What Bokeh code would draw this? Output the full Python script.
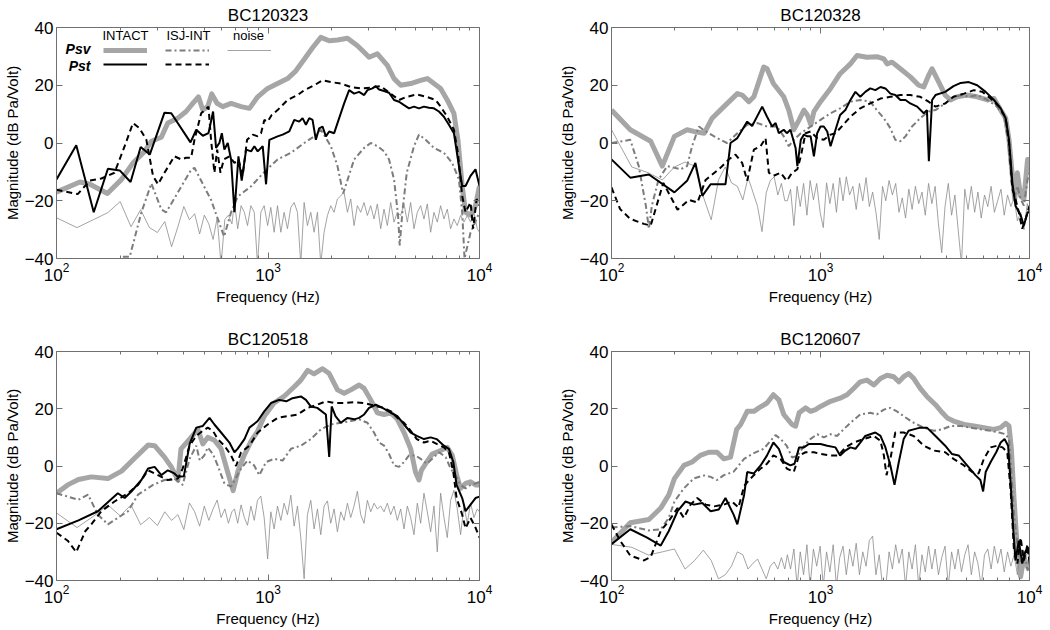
from bokeh.plotting import figure
from bokeh.models import (Range1d, FixedTicker, LinearAxis, LogAxis, Label,
                          Legend, LegendItem, CustomJSTickFormatter)
from bokeh.layouts import column, row
from bokeh.embed import file_html
from bokeh.resources import INLINE

FONT = "Liberation Sans"

titles = ["BC120323", "BC120328", "BC120518", "BC120607"]
x_ticks = [100, 1000, 10000]
x_minor = [200, 300, 400, 500, 600, 700, 800, 900,
           2000, 3000, 4000, 5000, 6000, 7000, 8000, 9000]
y_ticks = [-40, -20, 0, 20, 40]
x_label = "Frequency (Hz)"
y_label = "Magnitude (dB Pa/Volt)"
legend_cols = ["INTACT", "ISJ-INT", "noise"]
legend_rows = ["Psv", "Pst"]

# shared frequency points of the noise traces (Hz)
noise_f = [100, 125, 150, 175, 200, 225, 250, 275, 300, 325, 350, 375, 400, 425, 450, 475, 500, 525, 550, 575, 600, 625, 650, 675,
           694, 719, 746, 773, 800, 830, 861, 892, 925, 959,
           996, 1031, 1069, 1109, 1150, 1192, 1236, 1282, 1329, 1378,
           1429, 1482, 1536, 1593, 1652, 1713, 1776, 1842, 1910, 1980,
           2053, 2129, 2208, 2289, 2374, 2461, 2552, 2646, 2744, 2845,
           2950, 3059, 3172, 3289, 3411, 3536, 3667, 3802, 3943, 4088,
           4239, 4396, 4558, 4726, 4901, 5082, 5269, 5464, 5665, 5875,
           6092, 6316, 6550, 6791, 7042, 7302, 7572, 7851, 8141, 8442,
           8753, 9077, 9412, 9759, 10000]

# ---------------- BC120323 ----------------
p1_intact_psv_f = [100, 129, 144, 174, 203, 230, 261, 281, 313, 336, 375, 410, 441, 469, 492, 519, 542, 575, 611, 669, 746, 817, 894, 996, 1110, 1238, 1355, 1484, 1624, 1778, 1947, 2131, 2376, 2649, 2848, 3006, 3290, 3668, 3944, 4241, 4728, 5270, 5665, 6089, 6546, 7038, 7568, 7906, 8283, 8590, 9069, 9574, 10000]
p1_intact_psv_db = [-17, -13.5, -14.3, -17.5, -12.6, -6.9, -2.9, 0.6, 2, 6.9, 8.6, 10.9, 13.7, 16, 11.4, 12.6, 17, 13.7, 12.6, 13.7, 12.6, 12, 16, 18.9, 20.6, 22.3, 25, 29, 33, 36.6, 35.4, 35.7, 36.3, 33.7, 31.4, 29.7, 30.9, 26.9, 22.3, 20, 20.6, 21.7, 22.3, 20.6, 18.9, 14.9, 10.3, 1.1, -14.9, -24, -25, -21.7, -14.9]
p1_intact_pst_f = [100, 124, 150, 175, 199, 224, 250, 276, 324, 349, 430, 458, 492, 523, 550, 568, 589, 605, 622, 645, 669, 694, 725, 751, 788, 832, 862, 894, 944, 979, 1015, 1110, 1173, 1261, 1331, 1405, 1457, 1511, 1567, 1624, 1684, 1746, 1811, 1878, 1947, 2055, 2131, 2291, 2419, 2554, 2697, 2848, 2952, 3117, 3232, 3351, 3539, 3735, 3944, 4165, 4398, 4642, 4901, 5174, 5463, 5768, 6089, 6430, 6788, 7168, 7568, 7906, 8283, 8590, 9069, 9574, 10000]
p1_intact_pst_db = [-12.6, -0.8, -24, -8.9, -9.5, -13.5, -1.4, -4, 10.5, 10.3, 0.2, 4.6, 2.5, 3.4, 10.9, -1.7, 0, 3.4, -2.3, 0, -5.7, -24, -4.6, -13, -2.3, -2.9, -1.1, -2.9, -1.1, -14.3, 1.1, 2.3, 2.9, 4, 8, 7.4, 8.6, 6.3, 8.6, 8, 1.1, 5.1, 5.7, 2.3, 4, 3.4, 6.9, 13.7, 18.3, 17.1, 17.7, 16.6, 18.3, 18.9, 19.7, 18.5, 18, 17.4, 14.9, 14.3, 13.1, 12, 12.6, 12, 12.6, 12.2, 12, 10.9, 9.1, 6.3, 3.4, -5.7, -14.9, -14.9, -11.4, -9.1, -14.9]
p1_isj_psv_f = [206, 222, 252, 281, 313, 330, 433, 449, 538, 620, 669, 718, 832, 961, 1110, 1284, 1484, 1654, 1778, 1982, 2131, 2266, 2554, 2848, 3060, 3290, 3539, 3735, 3944, 4120, 4195, 4318, 4530, 4901, 5174, 5563, 6089, 6788, 7430, 7990, 8283, 8495, 9069, 10000]
p1_isj_psv_db = [-39.4, -39.4, -24, -14, -23, -24, -9.3, -8.6, -19.7, -32.4, -24, -18.6, -15, -10, -5.7, -3.4, 0, 2.3, 4.6, -1.1, -8, -17.5, -5.7, -1.7, 0, -1.1, -2.9, -5.7, -12.6, -25, -35.5, -24, -10.3, -1.1, 2.9, 1.1, -1.7, -3.4, -6.9, -12.6, -24, -40, -31, -24]
p1_isj_pst_f = [100, 126, 144, 163, 188, 210, 230, 247, 266, 286, 302, 324, 361, 389, 410, 433, 449, 483, 523, 538, 558, 575, 596, 618, 657, 694, 725, 759, 796, 847, 894, 927, 961, 996, 1041, 1110, 1238, 1380, 1484, 1654, 1811, 1982, 2210, 2464, 2746, 3060, 3412, 3803, 4165, 4530, 5050, 5630, 6200, 6546, 7038, 7568, 7906, 8283, 8590, 9069, 9330, 9690, 10000]
p1_isj_pst_db = [-16.2, -17.7, -13, -12.3, -10.3, -1.1, 6.9, 5.1, 1.1, -11.4, -14.3, -10.3, -4.6, -5.7, -5.1, -5.1, 1.1, 10.3, 12.6, 1.1, -10.3, -2.3, -10.3, -5.7, -4.6, -6.9, -5.7, -11.4, 1.1, 2.9, 2.3, 3.4, 8, 7.4, 9.7, 11.4, 14.9, 16.6, 18.3, 20, 21.7, 21.1, 20.6, 19.4, 18.9, 19.2, 19.7, 17.1, 14.9, 16, 16.8, 16, 14.9, 12.6, 9.1, 4.6, -3.4, -18.3, -24, -20.6, -29.7, -19.4, -21.7]
p1_noise_db = [-25.9, -29.3, -26.5, -24.1, -20.3, -29, -23.1, -29.3, -31, -27.2, -35.9, -29, -22, -26.6, -24.5, -31.5, -25, -28, -33.4, -26, -42, -26.5, -25, -28,
               -20.6, -29.7, -21.7, -24, -28.6, -21.7, -24, -42, -24, -21.7,
               -28.6, -22.3, -30.9, -21.7, -30.9, -24, -29.7, -22.3, -20.6, -24,
               -42, -20.6, -28.6, -24, -30.9, -24, -42, -30.9, -25.1, -21.7,
               -24, -19.4, -18.3, -17.1, -24, -19.4, -28.6, -21.7, -24, -20.6,
               -25.1, -21.7, -26.3, -21.1, -29.7, -22.9, -28.6, -20.6, -27.4, -24,
               -25.1, -21.1, -27.4, -20.6, -29.7, -24, -21.7, -26.3, -21.1, -30.9,
               -24, -27.4, -21.7, -26.3, -22.9, -29.7, -26.3, -28.6, -25.1, -27.4,
               -25.1, -27.4, -24, -29.7, -30.9]

# ---------------- BC120328 ----------------
p2_intact_psv_f = [100, 123, 154, 175, 200, 230, 248, 278, 303, 345, 400, 422, 454, 480, 535, 555, 595, 667, 705, 745, 790, 833, 865, 900, 930, 1000, 1117, 1241, 1390, 1496, 1668, 1860, 2010, 2083, 2200, 2410, 2690, 2950, 3120, 3290, 3420, 3610, 3950, 4190, 4510, 5030, 5620, 6290, 6760, 7280, 7690, 7980, 8280, 8500, 8750, 9070, 9400, 9790, 10000]
p2_intact_psv_db = [11.4, 4.6, 0.6, -8, 2.3, 4.6, 4, 3.4, 8.6, 12.6, 17.1, 16.6, 14.3, 16, 26.3, 25.7, 20.6, 16, 11.4, 4.6, 8, 11.4, 9.7, 6.3, 10.9, 14.3, 18.9, 24, 27.4, 30.3, 29.7, 29.9, 29.1, 27.4, 28, 25.7, 22.9, 20, 19.4, 23.4, 25.7, 22.3, 16.6, 14.9, 16, 16.6, 16, 14.9, 15.4, 11.4, 8.6, 1.1, -11.4, -19.4, -10.3, -18.3, -19.4, -5.7, -5.7]
p2_intact_pst_f = [100, 123, 151, 200, 230, 252, 272, 298, 320, 351, 371, 400, 446, 471, 526, 555, 587, 610, 632, 667, 690, 718, 760, 775, 805, 833, 865, 897, 930, 964, 1000, 1037, 1077, 1117, 1180, 1241, 1315, 1390, 1469, 1550, 1638, 1730, 1830, 1936, 2045, 2160, 2280, 2410, 2550, 2690, 2900, 3120, 3230, 3300, 3420, 3550, 3950, 4330, 4690, 5120, 5620, 6170, 6760, 7280, 7690, 7980, 8280, 8570, 9070, 9400, 9790, 10000]
p2_intact_pst_db = [-5.7, -12, -10.9, -17.1, -13.1, -6.9, -18.3, -14.3, -14.3, -14.3, 0, 1.7, 7.4, 5.9, 12.6, 9.1, 5.7, 6.9, 3.4, 4.6, 3.4, 4.6, -1.7, -8, 1.1, 2.9, 2.3, 2.3, -4.6, 3.4, 5.7, 5.7, 4, -1.1, 4.6, 9.7, 11.4, 14.9, 17.7, 16, 17.7, 18.9, 18.3, 19.4, 18.9, 17.1, 16.6, 14.9, 14.9, 13.7, 12.6, 10.3, 11.4, -6.3, 14.9, 16.6, 17.7, 19.7, 20.8, 21.1, 20, 17.7, 14.9, 12, 8.6, 1.1, -13.7, -21.7, -25, -28.6, -24, -24]
p2_isj_psv_f = [100, 123, 135, 146, 151, 156, 168, 185, 214, 230, 243, 262, 282, 310, 332, 357, 400, 446, 500, 555, 620, 667, 705, 745, 805, 897, 1000, 1117, 1241, 1390, 1550, 1730, 1860, 2010, 2160, 2280, 2410, 2550, 2740, 3000, 3290, 3550, 3950, 4330, 4770, 5120, 5620, 6290, 7000, 7550, 7900, 8190, 8430, 8750, 9070, 9400, 9790, 10000]
p2_isj_psv_db = [0, 1.1, -8, -21.7, -29.7, -21.7, -12.6, -8, -9.1, -8, -1.1, 5.7, 4, 2.3, 1.1, 0, 3.4, 6.3, 6.9, 5.7, 5.7, 2.3, -1.1, 1.1, 3.4, 5.7, 8, 10.3, 12, 14.3, 14.9, 14.3, 11.4, 8.6, 5.1, 1.1, 0.6, 2.3, 5.7, 8.6, 10.9, 11.4, 13.7, 16, 16.6, 16, 16.6, 14.9, 12.6, 9.1, 1.1, -12.6, -19.4, -14.9, -19.4, -21.7, -12.6, -10.3]
p2_isj_pst_f = [100, 110, 123, 143, 154, 177, 207, 235, 258, 282, 332, 364, 392, 422, 446, 480, 517, 546, 566, 595, 644, 690, 731, 775, 805, 848, 897, 964, 1037, 1117, 1180, 1241, 1390, 1550, 1730, 1936, 2160, 2410, 2690, 3000, 3290, 3550, 3950, 4330, 4860, 5420, 5950, 6520, 7150, 7690, 7980, 8280, 8570, 8890, 9230, 9580, 10000]
p2_isj_pst_db = [-15.4, -22.9, -26.3, -28, -28.6, -13.8, -23.1, -19.7, -20.6, -12.8, -8.6, -5.7, -4, -6.9, -13.1, -2.3, -1.1, 1.7, -10.3, -11.4, -10.3, -13.1, -10.3, -9.1, -4.6, 3.4, 4, 1.7, 1.1, 2.9, 3.4, 5.1, 9.1, 12, 13.7, 15.4, 16, 16.6, 16.6, 16, 14.3, 12.6, 13.7, 16, 17.1, 18.3, 17.7, 15.4, 12.6, 8.6, 0, -16, -19.4, -24, -29.7, -26.3, -21.7]
p2_noise_db = [4.6, -8.3, -10.3, -12.8, -8.3, -6.6, -8, -18.6, -26.6, -12.8, -8.3, -13.8, -15, -19.7, -12, -17, -22, -30.7, -17.2, -13, -11.7, -18, -14, -20,
               -20, -16, -28.6, -15, -22, -14, -25, -13, -19.7, -14,
               -24, -29.3, -13.8, -21, -14, -24, -12, -20, -11.7, -18,
               -15, -23, -14, -20, -12, -22, -17, -24, -33.4, -15,
               -20, -13, -18, -14, -24, -19, -26, -16, -23, -15,
               -21, -17, -25, -14, -21, -15, -28, -38, -22, -14,
               -25, -18, -30, -42, -16, -23, -15, -24, -17, -26,
               -18, -22, -15, -24, -20, -16, -25, -18, -22, -19,
               -27, -24, -30, -21, -25]

# ---------------- BC120518 ----------------
p3_intact_psv_f = [100, 113, 127, 146, 175, 203, 234, 271, 291, 324, 349, 375, 388, 426, 466, 492, 519, 558, 600, 644, 684, 722, 774, 832, 894, 960, 1068, 1190, 1331, 1430, 1540, 1650, 1811, 1947, 2131, 2291, 2464, 2697, 2848, 3060, 3290, 3539, 3803, 4090, 4398, 4728, 4980, 5174, 5310, 5563, 5980, 6546, 7038, 7430, 7800, 8130, 8590, 9069, 9574, 10000]
p3_intact_psv_db = [-9.5, -6.6, -4.7, -3.8, -4.4, -1.8, 2.7, 7.3, 7.1, 3.1, -0.3, -4.9, 6, 9.4, 12.8, 7.7, 10, 9, 6, -2, -8.6, -1.6, 4, 8.7, 12.2, 17.4, 22, 24.3, 27.7, 30, 33.4, 32.2, 34, 32.3, 26.6, 25.4, 26.6, 28.3, 27.1, 23.1, 18.6, 18, 18.6, 16.3, 11.7, 6, -2.1, -4.9, -1.5, 0.8, 4.2, 5.4, 6.5, 3.7, -3.2, -7.8, -6.1, -5.5, -6.6, -6.6]
p3_intact_pst_f = [100, 127, 157, 195, 210, 226, 252, 271, 291, 313, 336, 361, 375, 400, 426, 458, 492, 529, 558, 600, 657, 694, 718, 774, 817, 894, 960, 1033, 1128, 1220, 1306, 1430, 1511, 1593, 1710, 1878, 1947, 2000, 2085, 2210, 2376, 2554, 2697, 2848, 3006, 3232, 3480, 3803, 4090, 4398, 4728, 5050, 5463, 5870, 6270, 6788, 7168, 7520, 7790, 8283, 8590, 9069, 9574, 10000]
p3_intact_pst_db = [-22.1, -19, -15.8, -9.5, -11.2, -8.9, -4.9, -0.9, -0.3, -3.2, -1.5, -2.6, -3.8, -3.6, 7.7, 13.4, 14, 16.8, 14.5, 11.7, 8.2, 4.8, 6, 9.4, 13.4, 15.7, 19.1, 22, 23.1, 22.6, 23.7, 24.3, 23.1, 20.8, 20.3, 18, 3.2, 20.8, 17.4, 15.1, 16.8, 16.3, 16.8, 18, 20.3, 21.4, 20.3, 18.6, 17.4, 14.5, 11.7, 10.5, 9.4, 10, 9.4, 7.1, 6, 1.4, -6.6, -11.2, -15.8, -13.5, -11.2, -10.7]
p3_isj_psv_f = [100, 127, 141, 157, 175, 195, 218, 243, 286, 324, 361, 395, 426, 458, 476, 500, 519, 549, 578, 622, 669, 746, 800, 860, 910, 979, 1068, 1173, 1284, 1430, 1593, 1778, 1982, 2210, 2464, 2697, 2952, 3170, 3351, 3539, 3735, 3944, 4165, 4398, 4642, 4980, 5270, 5630, 5980, 6430, 6920, 7300, 7700, 8130, 8590, 9069, 9574, 10000]
p3_isj_psv_db = [-9.5, -11.8, -10, -17, -20.4, -18.1, -15.8, -10, -6.6, -4.9, -4.4, -6.6, 2.5, 7.1, 1.9, 3.7, 6.5, 4.2, 0.2, -6.1, -7.2, -0.9, 1.9, 0.2, -3.2, 1.4, 2.5, 1.9, 6, 7.1, 9.4, 12.8, 14.5, 15.1, 15.7, 16.3, 15.1, 11.7, 8.2, 7.1, 4.2, 0.2, -0.3, 1.4, 3.7, 3.7, 2.5, 0.8, 2.5, 4.8, 3.1, -0.9, -3.2, -6.6, -7.8, -6.6, -6.1, -5.5]
p3_isj_pst_f = [100, 113, 124, 137, 146, 163, 188, 218, 243, 271, 302, 336, 375, 395, 426, 458, 492, 519, 549, 578, 622, 669, 706, 746, 817, 894, 996, 1110, 1238, 1380, 1540, 1710, 1878, 2055, 2291, 2554, 2848, 3060, 3290, 3539, 3803, 4090, 4398, 4728, 5050, 5463, 5870, 6270, 6788, 7168, 7520, 7790, 8283, 8590, 9069, 9574, 10000]
p3_isj_pst_db = [-23.3, -26.1, -30.1, -22.7, -20.4, -15.8, -12.4, -9.5, -6.6, -1.5, -3.2, -4.9, -4.4, -0.9, 7.1, 10.5, 12.3, 13.4, 12.3, 9.4, 7.1, 3.7, 0, 4.8, 7.1, 11.7, 14.5, 16.8, 17.4, 18, 20.3, 21.4, 22.6, 22, 22, 22.3, 22, 21.4, 20.8, 20.3, 19.1, 16.8, 15.1, 12.3, 9.4, 8.2, 8.8, 7.7, 6.5, 4.8, -2.1, -11.2, -17, -21.8, -18.1, -21.5, -25]
p3_noise_db = [-16.4, -21.5, -17.5, -13.6, -17.4, -13.6, -20.5, -18, -20.8, -16, -19, -17, -22.2, -12.9, -16, -21, -14, -19, -15, -11.9, -18, -15, -20, -16,
               -15, -20, -13.6, -18, -20.7, -14, -19, -12, -10.5, -18,
               -32.5, -16, -22, -14, -19, -13, -17, -10.2, -21, -14,
               -25, -39.4, -17, -12, -22, -15, -24, -14, -12.2, -20,
               -15, -23, -16, -19, -13, -18, -14, -8.8, -17, -20,
               -12, -16, -13, -15, -14, -16, -13, -17, -14, -19,
               -15, -22, -14, -18, -24, -13, -20, -9.5, -16, -23,
               -14, -30, -9.5, -18, -25, -12, -8.5, -15, -24, -14,
               -20, -13, -18, -15, -16]

# ---------------- BC120607 ----------------
p4_intact_psv_f = [100, 123, 151, 172, 188, 200, 222, 243, 266, 292, 320, 345, 371, 397, 415, 446, 480, 507, 555, 595, 632, 667, 731, 760, 790, 848, 897, 946, 1000, 1117, 1241, 1340, 1440, 1550, 1668, 1800, 1936, 2083, 2240, 2370, 2500, 2640, 2790, 3000, 3230, 3550, 3830, 4040, 4330, 4860, 5420, 6050, 6760, 7280, 7690, 7980, 8190, 8430, 8750, 9070, 9400, 9790, 10000]
p4_intact_psv_db = [-26.7, -19.8, -18.7, -14.7, -10.1, -4.4, 0.2, 1.4, 3.7, 4.8, 4.8, 2.5, 3.1, 12.8, 14.5, 19.1, 19.1, 20.3, 22, 24.9, 23.1, 18, 14.5, 13.9, 18.6, 20.3, 19.1, 19.7, 20.8, 22.6, 23.7, 24.9, 27.1, 29.4, 30, 28.3, 30.6, 31.7, 31.2, 29.4, 31.2, 32.3, 30.6, 27.1, 24.3, 21.4, 18.6, 16.8, 15.7, 14.5, 14, 13.4, 12.8, 13.4, 14.9, 14, 6, -11.2, -29.6, -38.7, -31.8, -35.3, -36.4]
p4_intact_pst_f = [100, 123, 148, 172, 188, 207, 226, 248, 272, 298, 326, 351, 384, 400, 431, 446, 480, 517, 555, 595, 632, 667, 718, 751, 790, 833, 880, 930, 1000, 1077, 1180, 1241, 1315, 1390, 1469, 1550, 1638, 1730, 1830, 1936, 2045, 2160, 2260, 2370, 2500, 2640, 2790, 3000, 3230, 3550, 3950, 4250, 4580, 5030, 5510, 5820, 6000, 6170, 6520, 6930, 7280, 7600, 7900, 8130, 8370, 8570, 8890, 9230, 9580, 10000]
p4_intact_pst_db = [-27.3, -22.1, -25, -27.8, -22.7, -15.8, -12.4, -13.5, -12.9, -15.8, -15.2, -11.2, -17, -20.4, -10.1, -2.1, -2.6, 0.2, 3.7, 8.2, 6, 1.4, 0.2, 0.8, 6.5, 6.5, 7.7, 7.7, 7.7, 7.1, 6.5, 3.7, 5.4, 6.5, 6, 8.2, 10.5, 11.1, 11.7, 10.5, 6.5, 0.2, -6.6, 1.4, 9.4, 12.3, 12.8, 13.4, 13.4, 10.5, 7.1, 4.2, 3.7, 0.2, -3.2, -4.9, -8.9, -2.1, 1.4, 4.8, 8.2, 9.4, 7.1, -6.6, -22.7, -33, -26.1, -34.1, -29.6, -30.7]
p4_isj_psv_f = [100, 123, 151, 172, 188, 200, 222, 248, 278, 298, 320, 345, 384, 431, 480, 535, 609, 644, 690, 731, 775, 833, 897, 964, 1037, 1117, 1200, 1290, 1390, 1550, 1730, 1860, 2010, 2160, 2320, 2500, 2790, 3120, 3480, 3830, 4190, 4690, 5220, 5820, 6520, 7150, 7690, 7980, 8190, 8430, 8750, 9070, 9400, 9790, 10000]
p4_isj_psv_db = [-21.5, -21, -22.5, -22.1, -18.1, -12.4, -7.8, -4.3, -3.3, -3.8, -4.9, -3.2, -2, 2.5, 4.5, 6, 10.8, 9.5, 7, 3, 3.5, 7, 9.5, 11.1, 10, 11.1, 10.5, 12.8, 15.1, 18, 18.6, 18, 19.7, 20.3, 19.1, 17.4, 15.1, 13.4, 12.3, 12.8, 14, 14, 13.4, 12.8, 12.3, 11.7, 11.1, 9.4, -2.1, -17, -27.3, -34.1, -29.6, -36.4, -33]
p4_isj_pst_f = [100, 110, 123, 143, 154, 172, 188, 207, 222, 239, 257, 282, 310, 345, 377, 405, 431, 454, 480, 517, 555, 595, 644, 690, 745, 790, 848, 930, 1000, 1117, 1220, 1315, 1440, 1610, 1800, 1936, 2010, 2070, 2160, 2280, 2500, 2790, 3120, 3480, 3950, 4330, 4860, 5320, 5710, 6050, 6520, 7000, 7430, 7830, 8130, 8430, 8750, 9070, 9400, 9790, 10000]
p4_isj_pst_db = [-20.4, -26.1, -31.3, -33, -31.8, -22.7, -19.2, -14.7, -18.1, -13.5, -11.2, -13.5, -14.1, -13.5, -12.4, -14.5, -7, -5, -3.2, -0.9, 0.8, 3.7, 2.5, -0.9, -2.1, 3.7, 4.8, 4.8, 4.2, 3.7, 3.7, 6.5, 8.2, 9.4, 10.5, 8.8, 3.7, -3.2, 2.5, 11.7, 11.7, 10.5, 7.1, 5.4, 4.8, 2.5, 0.2, -2.1, -2.6, 2.5, 6.5, 7.1, 6.5, 4.8, -8.9, -29.6, -34.1, -25, -33, -27.3, -34.1]
p4_noise_db = [-27.4, -28.4, -31.1, -30, -29, -36, -33, -29.4, -33, -39.4, -38, -35, -30, -31, -36, -34, -32.5, -36, -39.4, -35, -33.5, -36, -32, -36,
               -31, -36, -29, -42, -30, -38, -27.5, -42, -29, -35,
               -28, -42, -30, -37, -27.5, -42, -32, -28, -38, -29,
               -35, -27, -38, -30, -35, -26, -24.5, -38, -31, -42,
               -42, -30, -36, -27.5, -34, -29, -42, -30, -36, -27.5,
               -42, -31, -37, -28, -36, -29, -38, -32, -28, -42,
               -30, -36, -29, -37, -31, -27.5, -38, -30, -34, -42,
               -31, -29, -36, -28, -34, -29, -37, -30, -35, -31,
               -38, -29, -34, -30, -33]

panels = [
    dict(title=titles[0], isv=(p1_intact_psv_f, p1_intact_psv_db), ist=(p1_intact_pst_f, p1_intact_pst_db),
         jsv=(p1_isj_psv_f, p1_isj_psv_db), jst=(p1_isj_pst_f, p1_isj_pst_db), noise=(noise_f, p1_noise_db)),
    dict(title=titles[1], isv=(p2_intact_psv_f, p2_intact_psv_db), ist=(p2_intact_pst_f, p2_intact_pst_db),
         jsv=(p2_isj_psv_f, p2_isj_psv_db), jst=(p2_isj_pst_f, p2_isj_pst_db), noise=(noise_f, p2_noise_db)),
    dict(title=titles[2], isv=(p3_intact_psv_f, p3_intact_psv_db), ist=(p3_intact_pst_f, p3_intact_pst_db),
         jsv=(p3_isj_psv_f, p3_isj_psv_db), jst=(p3_isj_pst_f, p3_isj_pst_db), noise=(noise_f, p3_noise_db)),
    dict(title=titles[3], isv=(p4_intact_psv_f, p4_intact_psv_db), ist=(p4_intact_pst_f, p4_intact_pst_db),
         jsv=(p4_isj_psv_f, p4_isj_psv_db), jst=(p4_isj_pst_f, p4_isj_pst_db), noise=(noise_f, p4_noise_db)),
]

# styles
AXIS_COLOR = "#707070"
STY = {
    "isv": dict(line_color="#a6a6a6", line_width=5, line_join="round"),
    "jsv": dict(line_color="#7c7c7c", line_width=2, line_dash="6 3 2 3"),
    "noise": dict(line_color="#8c8c8c", line_width=0.8),
    "jst": dict(line_color="black", line_width=2, line_dash="6 4"),
    "ist": dict(line_color="black", line_width=2),
}
ORDER = ["isv", "jsv", "noise", "jst", "ist"]

# (width, height, border left, right, top, bottom)
GEO = [(540, 307, 55, 61, 27, 48), (508, 307, 71, 19, 27, 48),
       (540, 322, 55, 61, 44, 45), (508, 322, 71, 19, 44, 45)]

minus_fmt = "return tick < 0 ? '\\u2212' + Math.abs(tick) : String(tick);"


def style_axis(ax):
    ax.axis_line_color = AXIS_COLOR
    ax.major_tick_line_color = AXIS_COLOR
    ax.minor_tick_line_color = AXIS_COLOR
    ax.major_tick_in = 6
    ax.major_tick_out = 0
    ax.minor_tick_in = 3
    ax.minor_tick_out = 0
    ax.major_label_text_font = FONT
    ax.major_label_text_font_size = "17px"
    ax.major_label_text_color = "black"
    ax.major_label_standoff = 4
    ax.axis_label_text_font = FONT
    ax.axis_label_text_font_size = "15px"
    ax.axis_label_text_font_style = "normal"
    ax.axis_label_text_color = "black"
    ax.axis_label_standoff = 4


def hide_labels(ax):
    ax.major_label_text_font_size = "2px"
    ax.major_label_text_alpha = 0
    ax.major_label_standoff = 0


def build(d, geo, with_legend):
    w, h, bl, br, bt, bb = geo
    p = figure(width=w, height=h, x_axis_type="log",
               x_range=Range1d(100, 10000), y_range=Range1d(-40, 40),
               output_backend="svg", toolbar_location=None,
               min_border_left=bl, min_border_right=br,
               min_border_top=bt, min_border_bottom=bb,
               title=d["title"], x_axis_label=x_label, y_axis_label=y_label)
    p.outline_line_color = None
    p.grid.visible = False
    p.background_fill_color = "white"
    p.border_fill_color = "white"
    p.title.text_font = FONT
    p.title.text_font_size = "17px"
    p.title.text_font_style = "normal"
    p.title.text_color = "black"
    p.title.align = "center"
    p.title.standoff = 5

    rs = {}
    for key in ORDER:
        fx, fy = d[key]
        rs[key] = p.line(fx, fy, **STY[key])

    xa = p.xaxis[0]
    style_axis(xa)
    xa.ticker = FixedTicker(ticks=x_ticks, minor_ticks=x_minor)
    ya = p.yaxis[0]
    style_axis(ya)
    ya.ticker = FixedTicker(ticks=y_ticks)
    ya.formatter = CustomJSTickFormatter(code=minus_fmt)
    ya.minor_tick_line_color = None
    ya.major_label_standoff = 3
    ya.axis_label_standoff = 1

    top = LogAxis(ticker=FixedTicker(ticks=x_ticks, minor_ticks=x_minor))
    style_axis(top)
    hide_labels(top)
    p.add_layout(top, "above")
    right = LinearAxis(ticker=FixedTicker(ticks=y_ticks))
    style_axis(right)
    hide_labels(right)
    right.minor_tick_line_color = None
    p.add_layout(right, "right")

    if with_legend:
        fh = h - bt - bb
        common = dict(orientation="horizontal", glyph_width=44, glyph_height=10,
                      label_width=0, label_height=10, label_standoff=0,
                      label_text_font_size="2px", spacing=18, padding=0, margin=0,
                      border_line_color=None, background_fill_alpha=0)
        lg1 = Legend(items=[LegendItem(label="", renderers=[rs["isv"]]),
                            LegendItem(label="", renderers=[rs["jsv"]]),
                            LegendItem(label="", renderers=[rs["noise"]])],
                     location=(47, fh - 29), **common)
        lg2 = Legend(items=[LegendItem(label="", renderers=[rs["ist"]]),
                            LegendItem(label="", renderers=[rs["jst"]])],
                     location=(47, fh - 43), **common)
        p.add_layout(lg1)
        p.add_layout(lg2)
        for txt, cx in zip(legend_cols, [69, 132, 192]):
            p.add_layout(Label(x=cx, y=fh - 9, x_units="screen", y_units="screen", text=txt,
                               text_font=FONT, text_font_size="13px", text_align="center",
                               text_baseline="middle", text_color="black"))
        for txt, cy in zip(legend_rows, [fh - 22, fh - 39]):
            p.add_layout(Label(x=34, y=cy, x_units="screen", y_units="screen", text=txt,
                               text_font=FONT, text_font_size="14px", text_font_style="bold italic",
                               text_align="right", text_baseline="middle", text_color="black"))
    return p


figs = [build(panels[i], GEO[i], i == 0) for i in range(4)]
layout = column(row(figs[0], figs[1]), row(figs[2], figs[3]))

open("out.html", "w").write(file_html(layout, INLINE))
